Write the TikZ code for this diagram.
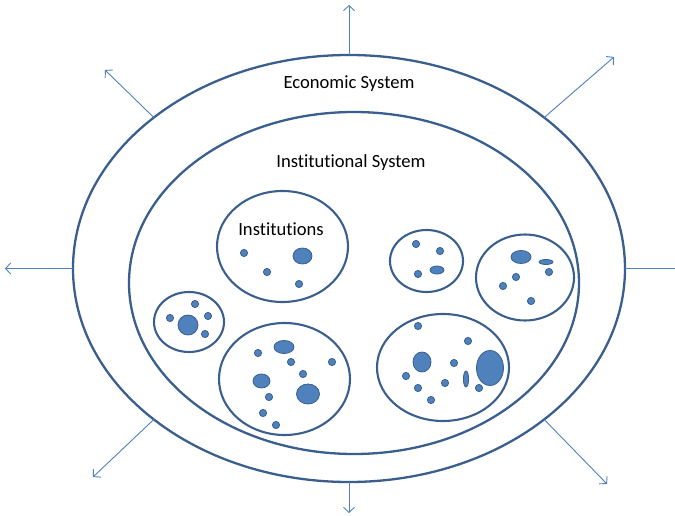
\documentclass[tikz,border=0pt]{standalone}
\usepackage{fontspec}
\setmainfont[Ligatures={NoCommon}]{Carlito}
\usetikzlibrary{arrows.meta,calc}
\definecolor{ringc}{HTML}{3A5F8F}
\definecolor{arrc}{HTML}{4F81BD}
\definecolor{dotc}{HTML}{4F81BD}
\tikzset{
  ring/.style={draw=ringc, line width=2.1pt},
  bigring/.style={draw=ringc, line width=2.3pt},
  outarrow/.style={draw=arrc, line width=0.9pt, -{Straight Barb[length=5pt,width=11pt,line width=0.9pt]}},
  blob/.style={fill=dotc, draw=ringc, line width=0.8pt},
  lbl/.style={font=\fontsize{18.6}{20}\selectfont, text=black, inner sep=0pt}
}
\newcommand{\blobdot}[3]{\fill[blob] (#1,#2) circle (#3);}
\newcommand{\blobell}[4]{\fill[blob] (#1,#2) ellipse [x radius=#3, y radius=#4];}
\begin{document}
\begin{tikzpicture}[x=1pt,y=-1pt]
\useasboundingbox (0,0) rectangle (675,516);
% outer and inner systems
\coordinate (oc) at (349,268.5);
\coordinate (ic) at (354,283);
\draw[bigring] (oc) ellipse [x radius=276, y radius=213.5];
\draw[bigring] (ic) ellipse [x radius=225, y radius=171];
% arrow anchors on the outer ellipse
\coordinate (sN) at ($(oc)+(0,-213.5)$);
\coordinate (sS) at ($(oc)+(0,213.5)$);
\coordinate (sW) at ($(oc)+(-276,0)$);
\coordinate (sE) at ($(oc)+(276,0)$);
\coordinate (sNW) at ($(oc)+(-195.2,-151)$);
\coordinate (sNE) at ($(oc)+(195.2,-151)$);
\coordinate (sSW) at ($(oc)+(-195.2,151)$);
\coordinate (sSE) at ($(oc)+(195.2,151)$);
\coordinate (tN) at (349,5);
\coordinate (tS) at (349,513);
\coordinate (tW) at (5,268.5);
\coordinate (tE) at (680,268.5);
\coordinate (tNW) at (105,70);
\coordinate (tNE) at (614,57);
\coordinate (tSW) at (93,477);
\coordinate (tSE) at (607,484);
\draw[outarrow] (sN) -- (tN);
\draw[outarrow] (sS) -- (tS);
\draw[outarrow] (sW) -- (tW);
\draw[draw=arrc, line width=0.9pt] (sE) -- (tE);
\draw[outarrow] (sNW) -- (tNW);
\draw[outarrow] (sNE) -- (tNE);
\draw[outarrow] (sSW) -- (tSW);
\draw[outarrow] (sSE) -- (tSE);
% labels
\node[lbl] (econ) at (349,84) {Economic System};
\node[lbl] (inst) at (351,163) {Institutional System};
\node[lbl] (instn) at (281,229) {Institutions};
% institution 1 (top left)
\draw[ring] (282.5,246.5) ellipse [x radius=65.5, y radius=55.5];
\blobdot{244}{253}{3.6}
\blobdot{267}{272}{3.6}
\blobdot{299}{284}{3.6}
\blobell{302.5}{256}{9.5}{8}
% institution 2 (small left)
\draw[ring] (189,322) ellipse [x radius=35, y radius=30];
\blobdot{188}{325}{10}
\blobdot{195}{304}{3.6}
\blobdot{170}{318}{3.6}
\blobdot{208}{316}{3.6}
\blobdot{205}{334}{3.6}
% institution 3 (bottom middle)
\draw[ring] (284.5,379) ellipse [x radius=65.5, y radius=56];
\blobdot{258}{353}{3.6}
\blobell{284}{347}{10}{6.5}
\blobdot{291}{362}{3.6}
\blobdot{332}{362}{3.6}
\blobdot{303}{374}{3.6}
\blobell{261.5}{381}{8.5}{7}
\blobell{308}{394}{11.5}{10}
\blobdot{269}{397}{3.6}
\blobdot{263}{413}{3.6}
\blobdot{276}{425}{3.6}
% institution 4 (bottom right)
\draw[ring] (443,367.5) ellipse [x radius=66, y radius=53.5];
\blobdot{418}{326}{3.6}
\blobdot{468}{341}{3.6}
\blobell{422}{362}{9}{10}
\blobdot{454}{363}{3.6}
\blobell{490}{368}{13.5}{17.5}
\blobdot{406}{376}{3.6}
\blobdot{445}{383}{3.6}
\blobell{466}{379}{2.6}{8}
\blobdot{418}{388}{3.6}
\blobdot{479}{388}{3.6}
\blobdot{431}{400}{3.6}
% institution 5 (small top right)
\draw[ring] (426.5,261) ellipse [x radius=36.5, y radius=31];
\blobdot{416}{244}{3.6}
\blobdot{440}{251}{3.6}
\blobdot{418}{274}{3.6}
\blobell{437}{270}{7}{4}
% institution 6 (right)
\draw[ring] (525,277.5) ellipse [x radius=49, y radius=43];
\blobell{521}{257}{10}{6.5}
\blobell{546}{262}{7}{2.5}
\blobdot{549}{272}{3.6}
\blobdot{516}{277}{3.6}
\blobdot{503}{286}{3.6}
\blobdot{531}{301}{3.6}
\end{tikzpicture}
\end{document}
